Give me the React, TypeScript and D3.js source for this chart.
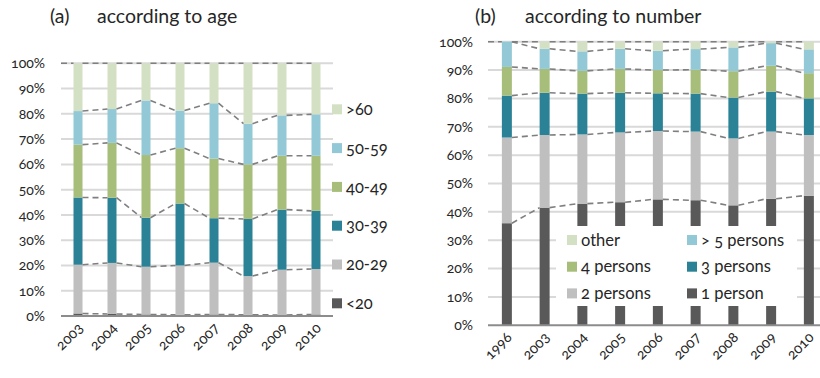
import React from 'react';
import * as d3 from 'd3';

// Panel (a): household heads by age group, share in %
const ageYears = ['2003', '2004', '2005', '2006', '2007', '2008', '2009', '2010'];
const ageKeys = ['<20', '20-29', '30-39', '40-49', '50-59', '>60'];
const ageUnder20 = [1.0, 0.8, 0.6, 0.5, 0.6, 0.5, 0.4, 0.6];
const age20to29 = [19.3, 20.2, 18.9, 19.5, 20.5, 15.3, 17.9, 18.0];
const age30to39 = [26.6, 25.8, 19.4, 24.5, 17.6, 22.6, 23.8, 23.0];
const age40to49 = [20.9, 21.7, 24.8, 21.9, 23.6, 21.6, 21.3, 21.8];
const age50to59 = [13.3, 13.4, 21.6, 14.9, 21.9, 16.1, 16.0, 16.4];
const ageOver60 = [18.9, 18.1, 14.7, 18.7, 15.8, 23.9, 20.6, 20.2];

// Panel (b): households by number of persons, share in %
const sizeYears = ['1996', '2003', '2004', '2005', '2006', '2007', '2008', '2009', '2010'];
const sizeKeys = ['1 person', '2 persons', '3 persons', '4 persons', '> 5 persons', 'other'];
const size1 = [36.0, 41.5, 42.9, 43.4, 44.4, 44.1, 42.3, 44.6, 45.7];
const size2 = [30.2, 25.6, 24.4, 24.6, 24.1, 24.2, 23.6, 23.7, 21.4];
const size3 = [14.8, 14.9, 14.4, 14.0, 13.3, 13.4, 14.4, 14.1, 12.9];
const size4 = [10.1, 8.4, 8.0, 8.4, 8.2, 8.4, 9.3, 9.1, 8.9];
const size5plus = [8.9, 7.1, 6.9, 7.1, 6.8, 7.3, 8.4, 8.0, 8.4];
const sizeOther = [0, 2.5, 3.4, 2.5, 3.2, 2.6, 2.0, 0.5, 2.7];

const percentTicks = [0, 10, 20, 30, 40, 50, 60, 70, 80, 90, 100];

const COLORS = ['#595959', '#bfbfbf', '#2b8296', '#a7bd7a', '#93c9d7', '#d3e0c3'];
const FONT = 'Lato, "Noto Sans", sans-serif';
const TEXT = '#262626';
const ONUM = { fontVariantNumeric: 'oldstyle-nums' } as const;

type Row = Record<string, number | string>;

function buildRows(years: string[], keys: string[], series: number[][]): Row[] {
  return years.map((y, i) => {
    const r: Row = { year: y };
    keys.forEach((k, j) => (r[k] = series[j][i]));
    return r;
  });
}

interface PanelProps {
  years: string[];
  keys: string[];
  series: number[][];
  x0: number;
  x1: number;
  yBottom: number;
  yTop: number;
  labelRight: number;
  children?: React.ReactNode;
}

function StackPanel({ years, keys, series, x0, x1, yBottom, yTop, labelRight, children }: PanelProps) {
  const rows = buildRows(years, keys, series);
  const stacked = d3.stack<Row>().keys(keys).value((d, k) => d[k] as number)(rows);
  const x = d3.scaleBand<string>().domain(years).range([x0, x1]).paddingInner(0.735).paddingOuter(0.3675);
  const y = d3.scaleLinear().domain([0, 100]).range([yBottom, yTop]);
  const bw = x.bandwidth();
  const fmt = (v: number) => `${v}%`;

  return (
    <g>
      {percentTicks.map((t) => (
        <g key={t}>
          {t > 0 && <line x1={x0} x2={x1} y1={y(t)} y2={y(t)} stroke="#d9d9d9" strokeWidth={2} />}
          <text x={labelRight} y={y(t)} dy="0.35em" textAnchor="end" fontSize={14} fill={TEXT} style={ONUM}>
            {fmt(t)}
          </text>
        </g>
      ))}
      {stacked.map((s, si) => (
        <g key={s.key}>
          {s.map((d, i) =>
            d[1] - d[0] > 0 ? (
              <rect
                key={i}
                x={x(years[i])!}
                width={bw}
                y={y(d[1])}
                height={y(d[0]) - y(d[1])}
                fill={COLORS[si]}
              />
            ) : null
          )}
        </g>
      ))}
      {/* series lines joining segment tops of neighbouring bars */}
      {stacked.map((s) => (
        <g key={`sl-${s.key}`}>
          {s.slice(0, -1).map((d, i) => (
            <line
              key={i}
              x1={x(years[i])! + bw}
              x2={x(years[i + 1])!}
              y1={y(d[1])}
              y2={y(s[i + 1][1])}
              stroke="#7f7f7f"
              strokeWidth={1.6}
              strokeDasharray="6,4"
            />
          ))}
        </g>
      ))}
      <line x1={x0} x2={x(years[0])!} y1={y(100)} y2={y(100)} stroke="#7f7f7f" strokeWidth={1.6} strokeDasharray="6,4" />
      <line x1={x0} x2={x1} y1={y(0)} y2={y(0)} stroke="#8c8c8c" strokeWidth={2} />
      {children}
      {years.map((yr) => (
        <text
          key={yr}
          transform={`translate(${x(yr)! + bw / 2 + 6},${yBottom + 13}) rotate(-45)`}
          textAnchor="end"
          fontSize={14.5}
          fill={TEXT}
          style={ONUM}
        >
          {yr}
        </text>
      ))}
    </g>
  );
}

export default function App() {
  const ageSeries = [ageUnder20, age20to29, age30to39, age40to49, age50to59, ageOver60];
  const sizeSeries = [size1, size2, size3, size4, size5plus, sizeOther];

  const sizeLegend = [
    [5, 4],
    [3, 2],
    [1, 0],
  ];

  return (
    <svg
      width={820}
      height={378}
      style={{ position: 'absolute', left: 0, top: 0, fontFamily: FONT, background: '#fff' }}
    >
      <rect width={820} height={378} fill="#fff" />
      <text x={50} y={23} fontSize={19.5} fill={TEXT}>(a)</text>
      <text x={97} y={23} fontSize={19.5} fill={TEXT}>according to age</text>
      <text x={475} y={23} fontSize={19.5} fill={TEXT}>(b)</text>
      <text x={525} y={23} fontSize={19.5} fill={TEXT}>according to number</text>

      <StackPanel
        years={ageYears}
        keys={ageKeys}
        series={ageSeries}
        x0={61}
        x1={333}
        yBottom={316}
        yTop={63.3}
        labelRight={45}
      />
      {/* legend for panel (a), top entry first */}
      {ageKeys
        .slice()
        .reverse()
        .map((k, i) => {
          const cy = 109.3 + i * 38.8;
          const ci = ageKeys.length - 1 - i;
          return (
            <g key={k}>
              <rect x={332} y={cy - 5} width={10} height={10} fill={COLORS[ci]} />
              <text x={346} y={cy} dy="0.35em" fontSize={16.5} fill={TEXT} style={ONUM}>
                {k}
              </text>
            </g>
          );
        })}

      <StackPanel
        years={sizeYears}
        keys={sizeKeys}
        series={sizeSeries}
        x0={488}
        x1={827.75}
        yBottom={325.3}
        yTop={41.7}
        labelRight={473}
      >
        <rect x={556} y={226} width={241} height={80} fill="#fff" />
        {sizeLegend.map((row, ri) =>
          row.map((ki, ci) => {
            const cy = 240 + ri * 26.7;
            const sx = ci === 0 ? 567 : 687;
            return (
              <g key={sizeKeys[ki]}>
                <rect x={sx} y={cy - 5} width={10} height={10} fill={COLORS[ki]} />
                <text x={sx + 14} y={cy} dy="0.35em" fontSize={16.5} fill={TEXT} style={ONUM}>
                  {sizeKeys[ki]}
                </text>
              </g>
            );
          })
        )}
      </StackPanel>
    </svg>
  );
}
